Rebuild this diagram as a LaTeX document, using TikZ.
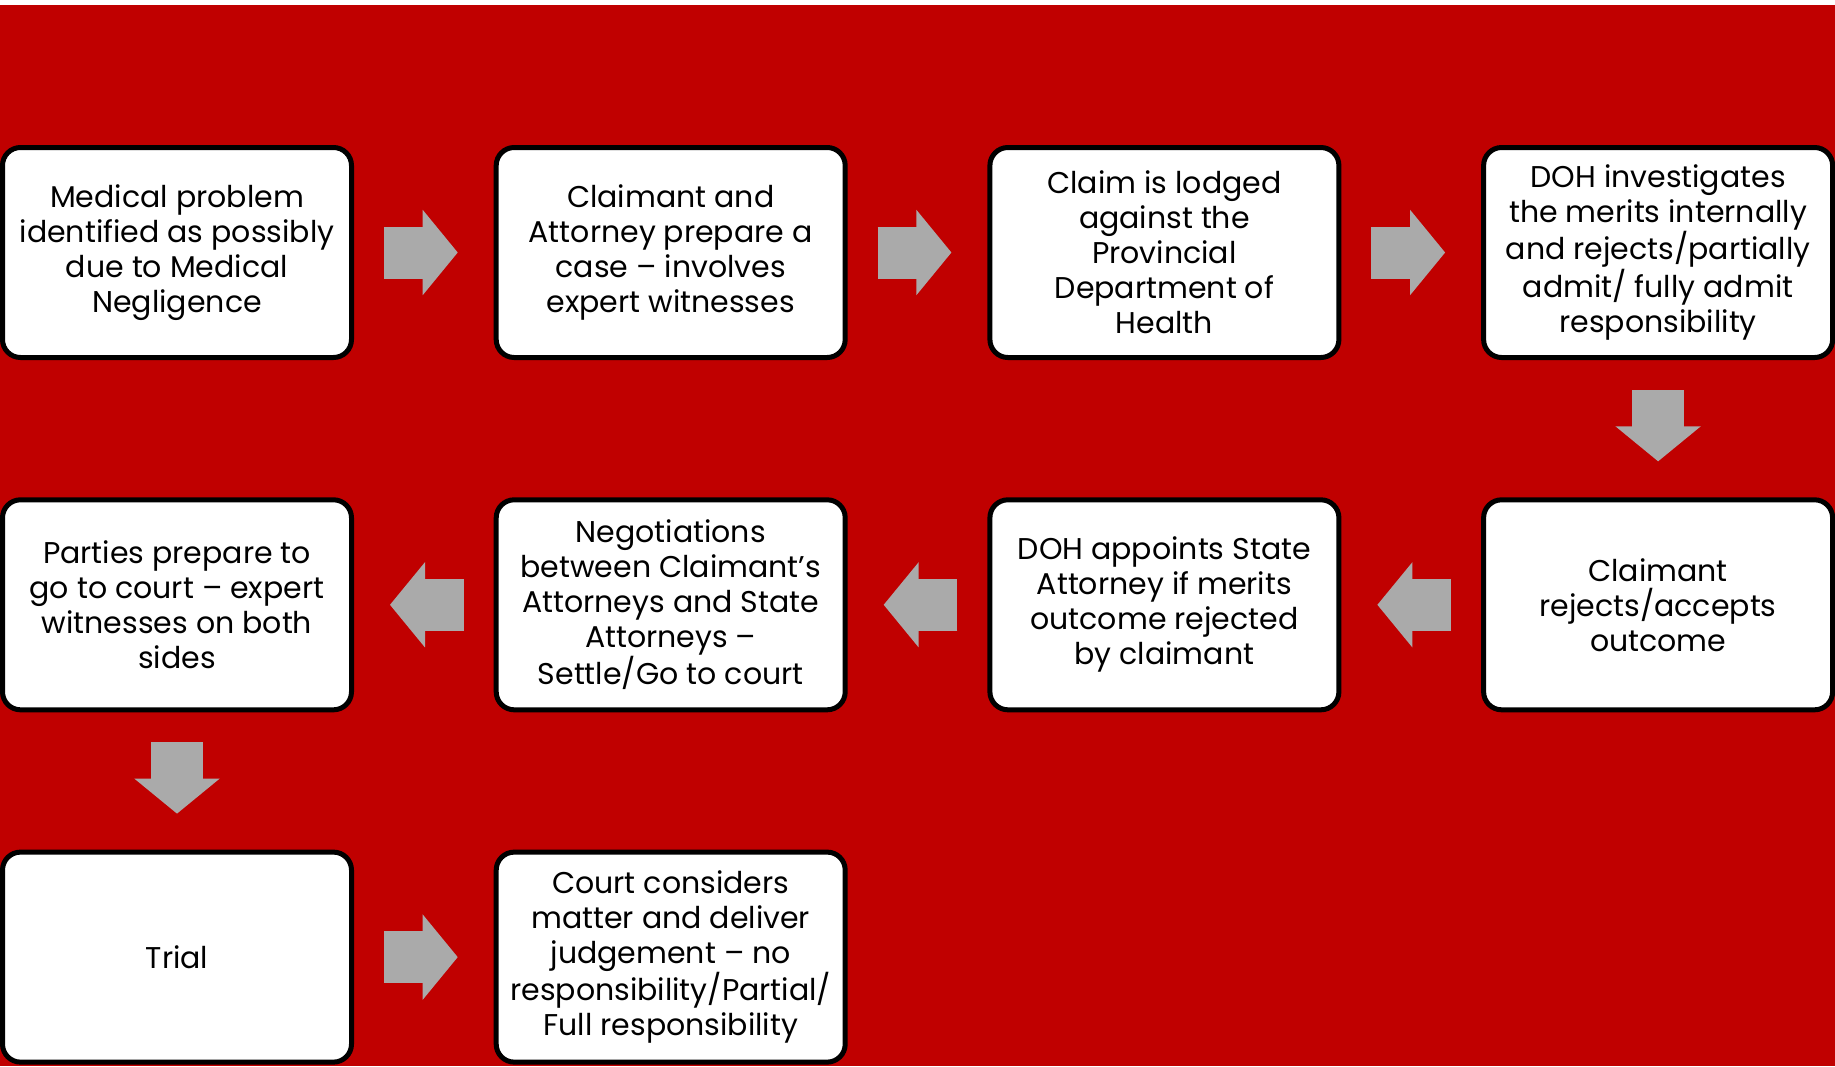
\documentclass[tikz,border=0pt]{standalone}
\usepackage{fontspec}
\setmainfont{Poppins}
\usetikzlibrary{arrows.meta}

\definecolor{slideRed}{RGB}{192,0,0}
\definecolor{arrowGray}{RGB}{170,170,170}

\begin{document}
\begin{tikzpicture}[x=1pt, y=-1pt,
        stage/.style={draw=black, line width=5pt, fill=white, rounded corners=18pt,
            minimum width=349pt, minimum height=210pt, inner sep=0pt, outer sep=2.5pt,
            align=center, font=\fontsize{30}{35}\selectfont},
        flow/.style={arrowGray, line width=52pt, shorten <=30pt, shorten >=36pt,
            -{Triangle[length=35pt, width=85pt, line width=2pt]}}]
        \pgfmathsetmacro{\pitchX}{493.7}
        \pgfmathsetmacro{\pitchY}{352.3}
        \pgfmathsetmacro{\startX}{177}
        \pgfmathsetmacro{\startY}{252.5}

        \useasboundingbox (0, 0) rectangle (1835, 1066);
        \fill[slideRed] (0, 5) rectangle (1835, 1066);

        \node[stage] (medical) at (\startX, \startY)
            {Medical problem\\identified as possibly\\due to Medical\\Negligence};
        \node[stage] (prepare) at (\startX+\pitchX, \startY)
            {Claimant and\\Attorney prepare a\\case -- involves\\expert witnesses};
        \node[stage] (lodged) at (\startX+2*\pitchX, \startY)
            {Claim is lodged\\against the\\Provincial\\Department of\\Health};
        \node[stage] (investigate) at (\startX+3*\pitchX, \startY)
            {DOH investigates\\the merits internally\\and rejects/partially\\admit/ fully admit\\responsibility};

        \node[stage] (outcome) at (\startX+3*\pitchX, \startY+\pitchY)
            {Claimant\\rejects/accepts\\outcome};
        \node[stage] (appoint) at (\startX+2*\pitchX, \startY+\pitchY)
            {DOH appoints State\\Attorney if merits\\outcome rejected\\by claimant};
        \node[stage] (negotiate) at (\startX+\pitchX, \startY+\pitchY)
            {Negotiations\\between Claimant’s\\Attorneys and State\\Attorneys --\\Settle/Go to court};
        \node[stage] (parties) at (\startX, \startY+\pitchY)
            {Parties prepare to\\go to court -- expert\\witnesses on both\\sides};

        \node[stage] (trial) at (\startX, \startY+2*\pitchY) {Trial};
        \node[stage] (court) at (\startX+\pitchX, \startY+2*\pitchY)
            {Court considers\\matter and deliver\\judgement -- no\\responsibility/Partial/\\Full responsibility};

        \draw[flow] (medical) -- (prepare);
        \draw[flow] (prepare) -- (lodged);
        \draw[flow] (lodged) -- (investigate);
        \draw[flow] (investigate) -- (outcome);
        \draw[flow] (outcome) -- (appoint);
        \draw[flow] (appoint) -- (negotiate);
        \draw[flow] (negotiate) -- (parties);
        \draw[flow] (parties) -- (trial);
        \draw[flow] (trial) -- (court);
\end{tikzpicture}
\end{document}
